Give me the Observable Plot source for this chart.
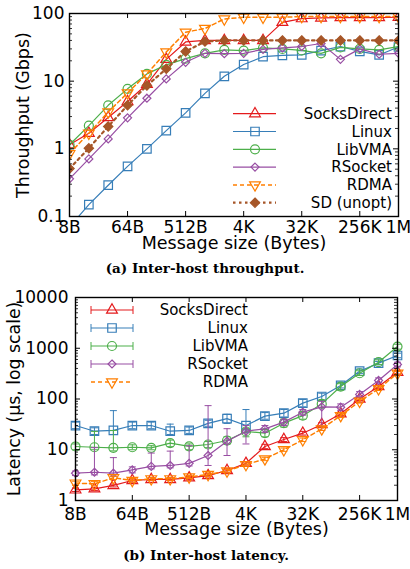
<!DOCTYPE html>
<html><head><meta charset="utf-8">
<script src="https://cdn.jsdelivr.net/npm/d3@7"></script>
<script src="https://cdn.jsdelivr.net/npm/@observablehq/plot@0.6"></script>
<style>
body{margin:0;background:#fff;}
#wrap{position:relative;width:410px;height:569px;overflow:hidden;background:#fff;}
#wrap svg{position:absolute;left:0;}
</style></head><body><div id="wrap"></div>
<script>
// ---------- data ----------
const sizes = [8,16,32,64,128,256,512,1024,2048,4096,8192,16384,32768,65536,131072,262144,524288,1048576];
const sizeTicks = [8,64,512,4096,32768,262144,1048576];
const sizeTickLabels = ["8B","64B","512B","4K","32K","256K","1M"];
const tpTicks = [0.1,1,10,100];
const tpTickLabels = ["0.1","1","10","100"];
const latTicks = [1,10,100,1000,10000];
const latTickLabels = ["1","10","100","1000","10000"];

const seriesNames = ["SocksDirect","Linux","LibVMA","RSocket","RDMA","SD (unopt)"];

// (a) throughput, Gbps
const tpSocksDirect = [1.15,1.7,2.9,5.0,9.0,21,38,40,40,40,40,74,84,86,87,87,87,88];
const tpLinux       = [0.07,0.15,0.29,0.55,1.0,1.86,3.4,6.6,11.8,17.6,23,24,24.4,28.3,32.5,27.6,24.4,32];
const tpLibVMA      = [1.15,2.2,4.4,7.7,12.8,17.4,21.5,25.8,29,28.3,31,30,28.5,25.8,31.5,30,29,32.5];
const tpRSocket     = [0.36,0.71,1.4,2.87,5.6,10.8,19,25.8,25.5,25.8,29.5,31,32.5,36,21,30,25,25.8];
const tpRDMA        = [0.85,1.7,3.5,6.7,12.8,27,53,60,83,88,88,88,90,90,90,90,90,90];
const tpSDunopt     = [0.51,1.02,2.14,4.4,8.6,15.2,27.5,38.5,40,40,40,40,40,40,40,40,40,40];

// (b) latency, us (value, low, high)
const latSocksDirect   = [1.62,1.7,1.98,2.48,2.6,2.6,2.8,3.1,3.9,5.4,11.6,15.9,21.2,31.5,51,100,176,337];
const latSocksDirectLo = [1.5,1.58,1.85,2.3,2.45,2.45,2.6,2.9,3.6,5.0,10.5,14.5,19.5,29,47,93,162,310];
const latSocksDirectHi = [1.75,1.82,2.1,2.65,2.8,2.8,3.0,3.35,4.2,5.8,12.8,17.3,23,34,55,108,190,365];
const latLinux   = [30,23.2,24,30,30,23.2,24,33,41,30,46,52.5,83,112,185,353,508,720];
const latLinuxLo = [26,20,20,26,26,20,21,29,33,22,40,44,70,95,165,320,470,650];
const latLinuxHi = [35,27,59,35,35,32,28,38,50,62,54,62,98,130,210,390,550,800];
const latLibVMA   = [11.6,11.2,10.9,11.2,10.9,13.5,11.7,12.7,15.2,22.9,21.2,33.4,47,80,176,322,531,1080];
const latLibVMALo = [10,10,9.5,10,10,11.5,10,11,13,18,18,28,40,68,150,290,480,960];
const latLibVMAHi = [13,23,24,12.5,12,15.5,13,14.5,18,26,25,40,55,95,200,360,590,1200];
const latRSocket   = [3.45,3.6,3.45,4.0,4.7,4.9,5.4,7.7,14.7,23.2,25.8,35,55,70,69,123,232,478];
const latRSocketLo = [3.1,3.2,3.0,3.5,4.2,4.4,4.8,4.9,7.7,13,22,30,48,24,60,110,210,430];
const latRSocketHi = [3.8,11,7.0,4.6,8.6,9.4,12,74,26,30,30,40,62,90,80,140,260,530];
const latRDMA   = [2.2,2.13,2.8,2.48,2.67,2.67,2.9,3.25,3.8,5.1,6.6,10,15.7,25.8,47,90,159,322];
const latRDMALo = [2.0,1.95,2.6,2.3,2.5,2.5,2.7,3.0,3.5,4.7,6.1,9.3,14.5,24,43,83,147,298];
const latRDMAHi = [2.4,2.35,3.0,2.7,2.85,2.85,3.1,3.5,4.1,5.5,7.1,10.8,17,28,51,97,172,348];

// ---------- styles ----------
const sqrt3 = Math.sqrt(3);
const triDown = {draw(ctx, size){ const y = -Math.sqrt(size/(sqrt3*3)); ctx.moveTo(0,-2*y); ctx.lineTo(-sqrt3*y, y); ctx.lineTo(sqrt3*y, y); ctx.closePath(); }};
const hCap = {draw(ctx){ ctx.moveTo(-3.5,0); ctx.lineTo(3.5,0); }};
const vCap = {draw(ctx){ ctx.moveTo(0,-4); ctx.lineTo(0,4); }};
const styles = {
  "SocksDirect": {color:"#e41a1c", symbol:d3.symbolTriangle, r:4, fill:"none", dash:null, w:1.2},
  "Linux":       {color:"#377eb8", symbol:d3.symbolSquare, r:4.8, fill:"none", dash:null, w:1.2},
  "LibVMA":      {color:"#4daf4a", symbol:"circle", r:4.5, fill:"none", dash:null, w:1.2},
  "RSocket":     {color:"#984ea3", symbol:d3.symbolDiamond2, r:3.6, fill:"none", dash:null, w:1.2},
  "RDMA":        {color:"#ff7f00", symbol:triDown, r:4, fill:"none", dash:"4,3", w:1.5},
  "SD (unopt)":  {color:"#a65628", symbol:d3.symbolDiamond2, r:4.2, fill:"#a65628", dash:"2.5,3.5", w:2.2}
};
const symType = s => s === "circle" ? d3.symbolCircle : s;

const FONT = "DejaVu Sans";
const FS = 17;
const tpData = [tpSocksDirect,tpLinux,tpLibVMA,tpRSocket,tpRDMA,tpSDunopt];
const latData = [[latSocksDirect,latSocksDirectLo,latSocksDirectHi],[latLinux,latLinuxLo,latLinuxHi],[latLibVMA,latLibVMALo,latLibVMAHi],[latRSocket,latRSocketLo,latRSocketHi],[latRDMA,latRDMALo,latRDMAHi]];

function minorTicks(lo, hi){ const t=[]; for(let d=lo; d<hi; d*=10) for(let k=2;k<=9;k++) t.push(d*k); return t; }

function frameMarks(fw, fh, xt, yt, ymin){
  return [
    Plot.tickX(xt, {x:d=>d, insetTop: fh-5, stroke:"black", strokeWidth:1}),
    Plot.tickX(xt, {x:d=>d, insetBottom: fh-5, stroke:"black", strokeWidth:1}),
    Plot.tickY(yt, {y:d=>d, insetRight: fw-5, stroke:"black", strokeWidth:1}),
    Plot.tickY(yt, {y:d=>d, insetLeft: fw-5, stroke:"black", strokeWidth:1}),
    Plot.tickY(ymin, {y:d=>d, insetRight: fw-3, stroke:"black", strokeWidth:0.8}),
    Plot.tickY(ymin, {y:d=>d, insetLeft: fw-3, stroke:"black", strokeWidth:0.8}),
    Plot.frame({stroke:"black", strokeWidth:1.4})
  ];
}

const wrap = document.getElementById("wrap");

// ---------- (a) throughput ----------
{
  const W=410, H=280, mL=69, mR=12, mT=13, mB=64;
  const fw=W-mL-mR, fh=H-mT-mB;
  const marks = [];
  seriesNames.forEach((name,i)=>{
    const st = styles[name];
    const rows = sizes.map((s,j)=>({size:s, v:tpData[i][j]}));
    marks.push(Plot.line(rows,{x:"size",y:"v",stroke:st.color,strokeWidth:st.w,strokeDasharray:st.dash,clip:true}));
    marks.push(Plot.dot(rows,{x:"size",y:"v",symbol:st.symbol,r:st.r,stroke:st.color,fill:st.fill,strokeWidth:1.2,clip:true}));
  });
  const svg = Plot.plot({
    width:W, height:H, marginLeft:mL, marginRight:mR, marginTop:mT, marginBottom:mB,
    style:{fontFamily:FONT, fontSize:FS+"px", background:"white", color:"black", overflow:"visible"},
    x:{type:"log", base:2, domain:[8,1048576]},
    y:{type:"log", domain:[0.1,100]},
    marks:[
      ...marks,
      ...frameMarks(fw, fh, sizeTicks, tpTicks, minorTicks(0.1,100)),
      Plot.axisX({ticks:sizeTicks, tickFormat:d=>sizeTickLabels[sizeTicks.indexOf(d)], tickSize:0, tickPadding:4, label:null, fontSize:FS}),
      Plot.axisY({ticks:tpTicks, tickFormat:d=>tpTickLabels[tpTicks.indexOf(d)], tickSize:0, tickPadding:5, label:null, fontSize:FS}),
      Plot.text(["Throughput (Gbps)"],{frameAnchor:"left", dx:-46.6, rotate:-90, textAnchor:"middle", lineAnchor:"middle", text:d=>d, fontSize:17.5}),
      Plot.text(["Message size (Bytes)"],{frameAnchor:"bottom", dy:26.4, textAnchor:"middle", lineAnchor:"middle", text:d=>d, fontSize:17.5}),
      Plot.text(["(a) Inter-host throughput."],{frameAnchor:"bottom", dy:52.5, dx:-29, textAnchor:"middle", lineAnchor:"middle", text:d=>d, fontSize:13.5, fontFamily:"DejaVu Serif", fontWeight:"bold"})
    ]
  });
  svg.style.top = "0px";
  const g = d3.select(svg).append("g").attr("font-family",FONT).attr("font-size",15);
  seriesNames.forEach((name,i)=>{
    const st = styles[name]; const y = 113.7 + 17.8*i;
    g.append("line").attr("x1",233).attr("x2",276).attr("y1",y).attr("y2",y).attr("stroke",st.color).attr("stroke-width",st.w).attr("stroke-dasharray",st.dash);
    g.append("path").attr("transform",`translate(255,${y})`).attr("d",d3.symbol(symType(st.symbol), Math.PI*st.r*st.r)()).attr("stroke",st.color).attr("fill",st.fill).attr("stroke-width",1.2);
    g.append("text").attr("x",392).attr("y",y).attr("dy","0.35em").attr("text-anchor","end").text(name);
  });
  wrap.appendChild(svg);
}

// ---------- (b) latency ----------
{
  const W=410, H=289, mL=75, mR=13, mT=17, mB=69;
  const fw=W-mL-mR, fh=H-mT-mB;
  const marks = [];
  seriesNames.slice(0,5).forEach((name,i)=>{
    const st = styles[name];
    const rows = sizes.map((s,j)=>({size:s, v:latData[i][0][j], lo:latData[i][1][j], hi:latData[i][2][j]}));
    marks.push(Plot.ruleX(rows,{x:"size",y1:"lo",y2:"hi",stroke:st.color,strokeWidth:1}));
    marks.push(Plot.dot(rows,{x:"size",y:"lo",symbol:hCap,stroke:st.color,strokeWidth:1}));
    marks.push(Plot.dot(rows,{x:"size",y:"hi",symbol:hCap,stroke:st.color,strokeWidth:1}));
    marks.push(Plot.line(rows,{x:"size",y:"v",stroke:st.color,strokeWidth:st.w,strokeDasharray:st.dash}));
    marks.push(Plot.dot(rows,{x:"size",y:"v",symbol:st.symbol,r:st.r,stroke:st.color,fill:st.fill,strokeWidth:1.2}));
  });
  const svg = Plot.plot({
    width:W, height:H, marginLeft:mL, marginRight:mR, marginTop:mT, marginBottom:mB,
    style:{fontFamily:FONT, fontSize:FS+"px", background:"white", color:"black", overflow:"visible"},
    x:{type:"log", base:2, domain:[8,1048576]},
    y:{type:"log", domain:[1,10000]},
    marks:[
      ...marks,
      ...frameMarks(fw, fh, sizeTicks, latTicks, minorTicks(1,10000)),
      Plot.axisX({ticks:sizeTicks, tickFormat:d=>sizeTickLabels[sizeTicks.indexOf(d)], tickSize:0, tickPadding:7, label:null, fontSize:FS}),
      Plot.axisY({ticks:latTicks, tickFormat:d=>latTickLabels[latTicks.indexOf(d)], tickSize:0, tickPadding:7, label:null, fontSize:FS}),
      Plot.text(["Latency (μs, log scale)"],{frameAnchor:"left", dx:-60.6, rotate:-90, textAnchor:"middle", lineAnchor:"middle", text:d=>d, fontSize:17.3}),
      Plot.text(["Message size (Bytes)"],{frameAnchor:"bottom", dy:28.4, textAnchor:"middle", lineAnchor:"middle", text:d=>d, fontSize:17.5}),
      Plot.text(["(b) Inter-host latency."],{frameAnchor:"bottom", dy:55, dx:-30.5, textAnchor:"middle", lineAnchor:"middle", text:d=>d, fontSize:13.5, fontFamily:"DejaVu Serif", fontWeight:"bold"})
    ]
  });
  svg.style.top = "280px";
  const g = d3.select(svg).append("g").attr("font-family",FONT).attr("font-size",15);
  seriesNames.slice(0,5).forEach((name,i)=>{
    const st = styles[name]; const y = 30 + 18*i;
    g.append("line").attr("x1",91).attr("x2",133).attr("y1",y).attr("y2",y).attr("stroke",st.color).attr("stroke-width",st.w).attr("stroke-dasharray",st.dash);
    if (name !== "RDMA") {
      g.append("path").attr("transform",`translate(91,${y})`).attr("d",d3.symbol(vCap)()).attr("stroke",st.color).attr("fill","none");
      g.append("path").attr("transform",`translate(133,${y})`).attr("d",d3.symbol(vCap)()).attr("stroke",st.color).attr("fill","none");
    }
    g.append("path").attr("transform",`translate(112,${y})`).attr("d",d3.symbol(symType(st.symbol), Math.PI*st.r*st.r)()).attr("stroke",st.color).attr("fill",st.fill).attr("stroke-width",1.2);
    g.append("text").attr("x",248).attr("y",y).attr("dy","0.35em").attr("text-anchor","end").text(name);
  });
  wrap.appendChild(svg);
}
</script></body></html>
